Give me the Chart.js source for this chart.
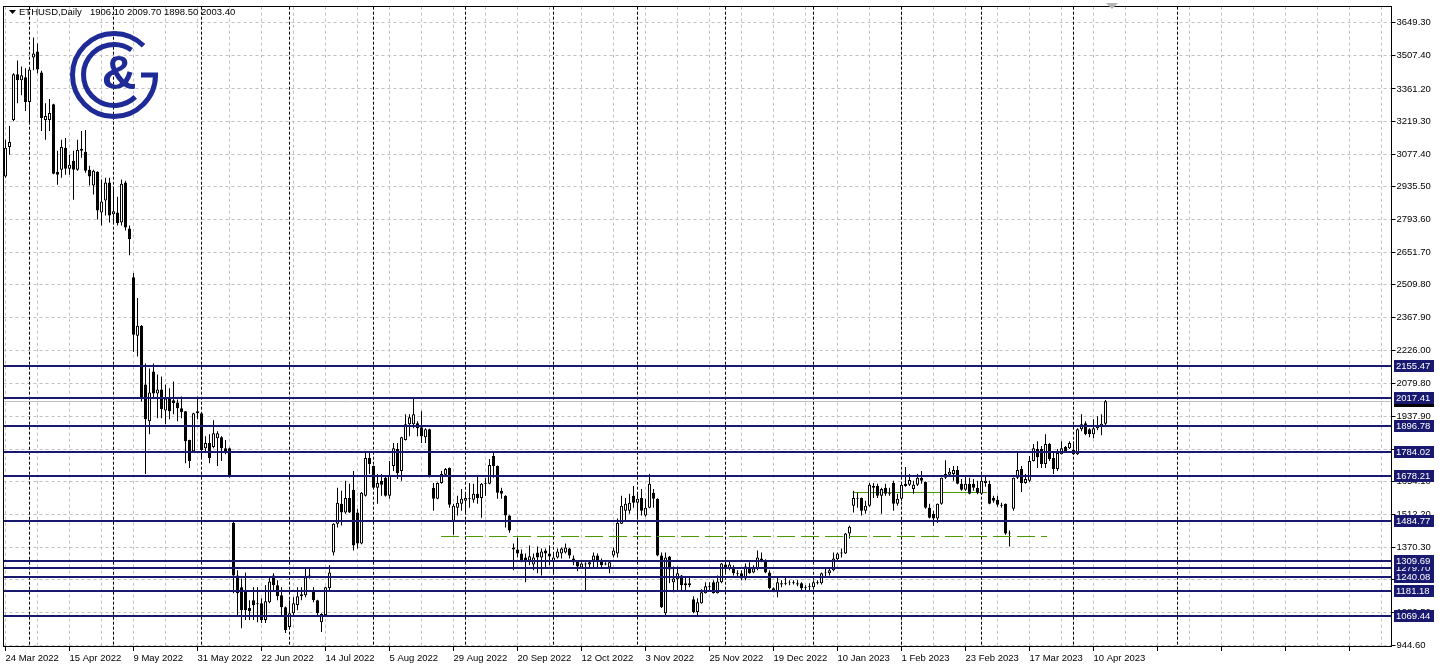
<!DOCTYPE html>
<html>
<head>
<meta charset="utf-8">
<title>ETHUSD, Daily</title>
<script src="https://cdn.jsdelivr.net/npm/chart.js@4.4.1/dist/chart.umd.min.js"></script>
<style>
  html, body { margin: 0; padding: 0; background: #fff; }
  canvas { display: block; }
</style>
</head>
<body>
<canvas id="chart" width="1439" height="671"></canvas>
<script>
'use strict';

// daily candles, 24 Mar 2022 .. 13 Apr 2023 (weekdays only)
const opens = [
  2980, 3109, 3226, 3425, 3399, 3412, 3304, 3498, 3524, 3433,
  3226, 3226, 3295, 3001, 3010, 3105, 3014, 3049, 3010, 3092,
  3088, 3010, 2941, 3001, 2824, 2876, 2954, 2816, 2824, 2781,
  2954, 2755, 2543, 2289, 2332, 2077, 1917, 2133, 2038, 2055,
  1964, 2021, 2008, 1999, 1973, 1960, 1835, 1787, 1952, 1952,
  1800, 1822, 1805, 1843, 1848, 1800, 1800, 1476, 1247, 1196,
  1182, 1105, 1139, 1126, 1126, 1053, 1131, 1247, 1204, 1161,
  1109, 1023, 1083, 1118, 1157, 1161, 1239, 1182, 1139, 1044,
  1075, 1191, 1347, 1472, 1558, 1520, 1584, 1619, 1520, 1386,
  1593, 1757, 1723, 1628, 1658, 1671, 1593, 1723, 1796, 1701,
  1835, 1904, 1904, 1908, 1891, 1848, 1882, 1628, 1580, 1649,
  1684, 1714, 1485, 1541, 1558, 1571, 1584, 1576, 1602, 1584,
  1645, 1645, 1766, 1723, 1615, 1593, 1507, 1368, 1360, 1342,
  1325, 1312, 1295, 1347, 1325, 1355, 1342, 1304, 1325, 1342,
  1347, 1364, 1321, 1308, 1282, 1299, 1295, 1312, 1334, 1312,
  1299, 1282, 1334, 1342, 1472, 1528, 1528, 1593, 1563, 1584,
  1507, 1541, 1606, 1580, 1334, 1083, 1329, 1217, 1230, 1247,
  1213, 1213, 1144, 1088, 1126, 1170, 1200, 1217, 1170, 1217,
  1295, 1278, 1278, 1256, 1256, 1234, 1282, 1260, 1278, 1321,
  1312, 1260, 1191, 1174, 1213, 1210, 1215, 1213, 1213, 1213,
  1196, 1200, 1196, 1217, 1213, 1256, 1256, 1269, 1317, 1342,
  1342, 1429, 1550, 1584, 1584, 1528, 1550, 1636, 1636, 1593,
  1628, 1606, 1649, 1558, 1580, 1645, 1641, 1623, 1641, 1671,
  1653, 1541, 1515, 1494, 1558, 1671, 1684, 1688, 1705, 1645,
  1619, 1645, 1645, 1628, 1602, 1649, 1645, 1584, 1576, 1554,
  1558, 1433, 1537, 1671, 1710, 1649, 1658, 1744, 1796, 1796,
  1731, 1818, 1757, 1710, 1774, 1805, 1800, 1792, 1774, 1882,
  1908, 1882, 1861, 1887, 1895, 1906.10
];
const highs = [
  3140, 3200, 3429, 3485, 3459, 3451, 3450, 3585, 3559, 3440,
  3299, 3317, 3297, 3092, 3140, 3148, 3075, 3092, 3140, 3178,
  3183, 3027, 3010, 3003, 2967, 2975, 2975, 2932, 2893, 2967,
  2962, 2768, 2561, 2453, 2335, 2168, 2146, 2168, 2120, 2111,
  2077, 2060, 2090, 2012, 2025, 1962, 1837, 1954, 2025, 1954,
  1852, 1861, 1921, 1874, 1852, 1835, 1803, 1485, 1269, 1234,
  1260, 1139, 1196, 1196, 1148, 1204, 1243, 1256, 1226, 1196,
  1112, 1139, 1152, 1196, 1196, 1278, 1278, 1196, 1141, 1083,
  1198, 1291, 1474, 1628, 1615, 1658, 1645, 1701, 1537, 1610,
  1779, 1787, 1725, 1688, 1688, 1675, 1744, 1822, 1822, 1850,
  1947, 1947, 2021, 1917, 1960, 1887, 1884, 1649, 1651, 1701,
  1714, 1716, 1558, 1593, 1623, 1602, 1649, 1645, 1679, 1649,
  1671, 1753, 1787, 1725, 1628, 1595, 1509, 1386, 1412, 1360,
  1342, 1377, 1342, 1373, 1364, 1364, 1377, 1342, 1364, 1368,
  1386, 1366, 1334, 1312, 1304, 1304, 1312, 1347, 1342, 1321,
  1304, 1312, 1368, 1494, 1593, 1584, 1602, 1636, 1602, 1623,
  1580, 1688, 1623, 1582, 1347, 1347, 1331, 1286, 1286, 1249,
  1239, 1239, 1157, 1148, 1187, 1217, 1217, 1226, 1247, 1301,
  1304, 1312, 1291, 1269, 1269, 1299, 1304, 1291, 1355, 1347,
  1317, 1269, 1196, 1239, 1226, 1239, 1226, 1226, 1226, 1217,
  1204, 1213, 1226, 1226, 1260, 1278, 1278, 1347, 1347, 1364,
  1431, 1463, 1615, 1606, 1586, 1571, 1649, 1649, 1645, 1628,
  1645, 1628, 1658, 1602, 1645, 1718, 1688, 1658, 1688, 1701,
  1655, 1558, 1528, 1560, 1673, 1748, 1714, 1723, 1723, 1666,
  1679, 1671, 1666, 1658, 1679, 1679, 1658, 1593, 1593, 1563,
  1560, 1442, 1673, 1783, 1723, 1688, 1766, 1818, 1830, 1809,
  1861, 1822, 1779, 1796, 1830, 1809, 1830, 1830, 1887, 1947,
  1917, 1887, 1926, 1939, 1947, 2009.70
];
const lows = [
  2975, 3075, 3221, 3299, 3334, 3265, 3213, 3442, 3429, 3178,
  3140, 3178, 2990, 2945, 2975, 2988, 2988, 2880, 3006, 3062,
  2997, 2941, 2902, 2794, 2768, 2811, 2781, 2781, 2768, 2768,
  2746, 2638, 2219, 2198, 2003, 1688, 1861, 2016, 1930, 1930,
  1904, 1926, 1947, 1917, 1930, 1735, 1714, 1785, 1926, 1761,
  1779, 1735, 1800, 1723, 1744, 1774, 1671, 1170, 1075, 1018,
  1053, 1053, 1053, 1044, 1040, 1040, 1126, 1182, 1139, 1066,
  997, 1018, 1075, 1096, 1139, 1152, 1234, 1131, 1075, 1001,
  1073, 1182, 1334, 1455, 1464, 1515, 1518, 1355, 1364, 1382,
  1590, 1688, 1625, 1558, 1593, 1590, 1580, 1701, 1666, 1658,
  1833, 1852, 1887, 1852, 1822, 1822, 1673, 1528, 1578, 1645,
  1679, 1541, 1424, 1507, 1528, 1515, 1541, 1563, 1558, 1498,
  1593, 1643, 1671, 1580, 1580, 1455, 1433, 1269, 1325, 1304,
  1217, 1291, 1269, 1256, 1247, 1282, 1291, 1256, 1321, 1321,
  1342, 1321, 1291, 1265, 1278, 1182, 1282, 1278, 1282, 1282,
  1291, 1256, 1325, 1325, 1470, 1485, 1515, 1541, 1498, 1507,
  1502, 1539, 1541, 1330, 1105, 1075, 1213, 1174, 1182, 1182,
  1182, 1196, 1083, 1075, 1124, 1168, 1182, 1168, 1168, 1213,
  1256, 1269, 1247, 1239, 1226, 1226, 1254, 1256, 1269, 1304,
  1256, 1187, 1174, 1152, 1196, 1204, 1204, 1208, 1200, 1182,
  1182, 1182, 1191, 1208, 1208, 1239, 1247, 1265, 1312, 1325,
  1340, 1407, 1520, 1541, 1507, 1515, 1545, 1584, 1584, 1515,
  1593, 1593, 1528, 1550, 1571, 1632, 1636, 1602, 1636, 1645,
  1537, 1494, 1463, 1476, 1554, 1666, 1679, 1658, 1643, 1615,
  1615, 1600, 1615, 1600, 1597, 1632, 1556, 1563, 1545, 1541,
  1424, 1373, 1528, 1666, 1610, 1645, 1653, 1742, 1714, 1714,
  1714, 1744, 1688, 1701, 1772, 1783, 1796, 1770, 1770, 1874,
  1856, 1848, 1843, 1878, 1856, 1898.50
];
const closes = [
  3105, 3131, 3425, 3399, 3420, 3304, 3446, 3515, 3446, 3235,
  3243, 3256, 2993, 2988, 3109, 3014, 3032, 3010, 3096, 3101,
  3006, 2980, 3006, 2833, 2872, 2954, 2811, 2829, 2777, 2949,
  2759, 2708, 2293, 2332, 2021, 1926, 2042, 2038, 2055, 1969,
  2016, 1960, 1995, 1973, 1956, 1830, 1744, 1952, 1960, 1792,
  1822, 1757, 1865, 1865, 1800, 1779, 1679, 1247, 1170, 1096,
  1096, 1092, 1118, 1122, 1053, 1135, 1221, 1204, 1157, 1109,
  1009, 1083, 1126, 1157, 1165, 1239, 1247, 1139, 1083, 1079,
  1196, 1260, 1472, 1563, 1520, 1584, 1520, 1377, 1386, 1606,
  1757, 1731, 1628, 1649, 1641, 1593, 1684, 1800, 1692, 1848,
  1904, 1934, 1947, 1887, 1852, 1882, 1675, 1580, 1649, 1688,
  1710, 1554, 1550, 1563, 1580, 1584, 1580, 1602, 1584, 1645,
  1649, 1727, 1723, 1606, 1602, 1507, 1442, 1360, 1342, 1312,
  1312, 1330, 1325, 1325, 1351, 1342, 1329, 1325, 1351, 1364,
  1368, 1334, 1304, 1286, 1299, 1295, 1304, 1334, 1308, 1291,
  1295, 1304, 1355, 1476, 1550, 1558, 1563, 1563, 1580, 1528,
  1541, 1645, 1580, 1334, 1109, 1325, 1273, 1234, 1256, 1204,
  1204, 1204, 1088, 1131, 1174, 1200, 1196, 1170, 1221, 1299,
  1278, 1295, 1256, 1252, 1234, 1286, 1256, 1278, 1325, 1312,
  1260, 1191, 1178, 1217, 1208, 1213, 1217, 1217, 1208, 1191,
  1191, 1196, 1217, 1213, 1256, 1260, 1269, 1321, 1342, 1347,
  1429, 1459, 1584, 1580, 1528, 1550, 1641, 1628, 1593, 1623,
  1602, 1602, 1558, 1580, 1641, 1636, 1662, 1641, 1671, 1658,
  1541, 1498, 1494, 1558, 1671, 1688, 1697, 1705, 1645, 1619,
  1645, 1602, 1628, 1606, 1658, 1658, 1558, 1571, 1554, 1550,
  1429, 1429, 1671, 1705, 1649, 1666, 1744, 1800, 1761, 1731,
  1818, 1753, 1710, 1779, 1800, 1787, 1822, 1774, 1882, 1904,
  1861, 1861, 1887, 1900, 1906.10, 2003.40
];

// one date label every 16 bars
const dateTicks = ['24 Mar 2022', '15 Apr 2022', '9 May 2022', '31 May 2022', '22 Jun 2022',
  '14 Jul 2022', '5 Aug 2022', '29 Aug 2022', '20 Sep 2022', '12 Oct 2022', '3 Nov 2022',
  '25 Nov 2022', '19 Dec 2022', '10 Jan 2023', '1 Feb 2023', '23 Feb 2023', '17 Mar 2023',
  '10 Apr 2023'];
const priceTicks = [3649.30, 3507.40, 3361.20, 3219.30, 3077.40, 2935.50, 2793.60, 2651.70,
  2509.80, 2367.90, 2226.00, 2079.80, 1937.90, 1796.00, 1654.10, 1512.20, 1370.30, 1228.40,
  1086.50, 944.60];

// horizontal levels (1279.70 first so its label sits under its neighbours)
const levels = [1279.70, 2155.47, 2017.41, 1896.78, 1784.02, 1678.21, 1484.77, 1309.69,
  1240.08, 1181.18, 1069.44];
const bid = 2003.40;
// bar index of each monthly separator, plus one extra vertical line
const separators = [6, 27, 49, 71, 92, 115, 137, 158, 180, 202, 224, 244, 267, 293];
// green lines: [price, first bar, last bar]
const dashedGreen = [1420, 108.9, 260.4];
const solidGreen = [1610, 211.8, 245.4];

const SLOTS = 347;
const slots = [];
for (let i = 0; i < SLOTS; i++) slots.push(i);

const navy = '#191970';
const grey = '#c0c0c0';
const green = '#4c9900';
const fontFamily = '"Liberation Sans", Arial, sans-serif';
const fontSize = 9.5;
const font = fontSize + 'px ' + fontFamily;

var hline = (ctx, a, py, color, width, dash) => {
  ctx.save();
  ctx.strokeStyle = color;
  ctx.lineWidth = width;
  ctx.setLineDash(dash || []);
  ctx.beginPath();
  ctx.moveTo(a.left, py);
  ctx.lineTo(a.right, py);
  ctx.stroke();
  ctx.restore();
};

var segment = (chart, line, dash) => {
  const {ctx, scales: {x, y}} = chart;
  const py = Math.round(y.getPixelForValue(line[0])) + 0.5;
  ctx.save();
  ctx.strokeStyle = green;
  ctx.lineWidth = 1;
  ctx.setLineDash(dash);
  ctx.beginPath();
  ctx.moveTo(x.getPixelForValue(line[1]), py);
  ctx.lineTo(x.getPixelForValue(line[2]), py);
  ctx.stroke();
  ctx.restore();
};

var drawLogo = (ctx) => {
  const cx = 114, cy = 75;
  ctx.save();
  ctx.strokeStyle = '#1e2a96';
  ctx.fillStyle = '#1e2a96';
  ctx.lineWidth = 5;
  ctx.beginPath();
  ctx.arc(cx, cy, 41.5, -0.78, 0, true);
  ctx.stroke();
  ctx.beginPath();
  ctx.moveTo(141, cy);
  ctx.lineTo(158, cy);
  ctx.stroke();
  ctx.beginPath();
  ctx.arc(cx, cy, 30.5, -0.96, 0.8, true);
  ctx.stroke();
  ctx.font = 'bold 48px "Liberation Sans", sans-serif';
  ctx.textAlign = 'center';
  ctx.textBaseline = 'middle';
  ctx.fillText('&', cx + 5, cy + 1);
  ctx.restore();
};

const decor = {
  id: 'decor',
  beforeDatasetsDraw(chart) {
    const {ctx, chartArea: a, scales: {x, y}} = chart;
    ctx.save();
    ctx.strokeStyle = '#000';
    ctx.lineWidth = 1;
    ctx.setLineDash([3, 2]);
    for (const s of separators) {
      const px = Math.floor(x.getPixelForValue(s)) + 0.5;
      ctx.beginPath();
      ctx.moveTo(px, a.top);
      ctx.lineTo(px, a.bottom);
      ctx.stroke();
    }
    ctx.restore();
    hline(ctx, a, Math.round(y.getPixelForValue(bid)) + 0.5, grey, 1);
    segment(chart, solidGreen, []);
  },
  afterDatasetsDraw(chart) {
    const {ctx, chartArea: a, scales: {y}} = chart;
    for (const v of levels) hline(ctx, a, Math.round(y.getPixelForValue(v)), navy, 2);
    segment(chart, dashedGreen, [18, 6]);
  },
  afterDraw(chart) {
    const {ctx, chartArea: a, scales: {y}} = chart;
    ctx.save();
    // frame
    ctx.strokeStyle = '#000';
    ctx.lineWidth = 1;
    ctx.strokeRect(Math.floor(a.left) + 0.5, Math.floor(a.top) + 0.5,
      Math.round(a.right - a.left), Math.round(a.bottom - a.top));

    // price labels on the axis
    ctx.font = font;
    ctx.textBaseline = 'middle';
    ctx.textAlign = 'left';
    const bx = Math.round(y.left) + 2;
    const label = (v, bg) => {
      const py = Math.round(y.getPixelForValue(v));
      ctx.fillStyle = bg;
      ctx.fillRect(bx, py - 6, 40, 12);
      ctx.fillStyle = '#fff';
      ctx.fillText(v.toFixed(2), bx + 2, py + 0.5);
    };
    label(bid, '#000');
    for (const v of levels) label(v, navy);

    // header
    ctx.fillStyle = '#000';
    ctx.beginPath();
    ctx.moveTo(9, 10);
    ctx.lineTo(16, 10);
    ctx.lineTo(12.5, 14);
    ctx.closePath();
    ctx.fill();
    ctx.textBaseline = 'alphabetic';
    ctx.fillText('ETHUSD,Daily', 19, 15);
    const n = closes.length - 1;
    ctx.fillText([opens[n], highs[n], lows[n], closes[n]].map(v => v.toFixed(2)).join(' '), 90, 15);

    // chart shift marker
    ctx.fillStyle = '#b4b4b4';
    ctx.beginPath();
    ctx.moveTo(1106, 3);
    ctx.lineTo(1118, 3);
    ctx.lineTo(1112, 9);
    ctx.closePath();
    ctx.fill();
    ctx.restore();

    drawLogo(ctx);
  }
};

var config = {
  type: 'bar',
  data: {
    labels: slots,
    datasets: [{
      label: 'body',
      data: opens.map((o, i) => [o, closes[i]]),
      backgroundColor: opens.map((o, i) => closes[i] >= o ? '#ffffff' : '#000000'),
      borderColor: '#000000',
      borderWidth: 1,
      borderSkipped: false,
      barThickness: 3,
      inflateAmount: 0,
      grouped: false,
      order: 0
    }, {
      label: 'wick',
      data: lows.map((l, i) => [l, highs[i]]),
      backgroundColor: '#000000',
      borderWidth: 0,
      barThickness: 1,
      inflateAmount: 0,
      grouped: false,
      order: 1
    }]
  },
  options: {
    responsive: false,
    animation: false,
    devicePixelRatio: 1,
    events: [],
    layout: { padding: { left: 3.5, top: 3, right: 0, bottom: 0 } },
    plugins: { legend: { display: false }, tooltip: { enabled: false } },
    scales: {
      x: {
        type: 'category',
        offset: true,
        grid: {
          offset: false,
          color: grey,
          lineWidth: 1,
          tickLength: 4,
          tickColor: (c) => (c.tick && c.tick.value % 16 === 0) ? '#000' : 'rgba(0,0,0,0)'
        },
        border: { display: false, dash: [3, 3] },
        ticks: {
          autoSkip: false,
          maxRotation: 0,
          minRotation: 0,
          align: 'start',
          padding: 2,
          color: '#000',
          font: { family: fontFamily, size: fontSize },
          callback: (v) => (v % 16 === 0 && dateTicks[v / 16]) ? dateTicks[v / 16] : ''
        },
        afterBuildTicks: (axis) => { axis.ticks = axis.ticks.filter(t => t.value % 8 === 0); },
        afterFit: (axis) => { axis.height = 24; }
      },
      y: {
        position: 'right',
        bounds: 'data',
        min: 936.0,
        max: 3718.4,
        grid: { color: grey, lineWidth: 1, tickLength: 4, tickColor: '#000' },
        border: { display: false, dash: [3, 3] },
        ticks: {
          color: '#000',
          padding: 1,
          autoSkip: false,
          font: { family: fontFamily, size: fontSize },
          callback: (v) => Number(v).toFixed(2)
        },
        afterBuildTicks: (axis) => { axis.ticks = priceTicks.map(v => ({ value: v })); },
        afterFit: (axis) => { axis.width = 47.5; }
      }
    }
  },
  plugins: [decor]
};

window.onload = function() {
  var ctx = document.getElementById('chart').getContext('2d');
  window.ethChart = new Chart(ctx, config);
};
</script>
</body>
</html>
